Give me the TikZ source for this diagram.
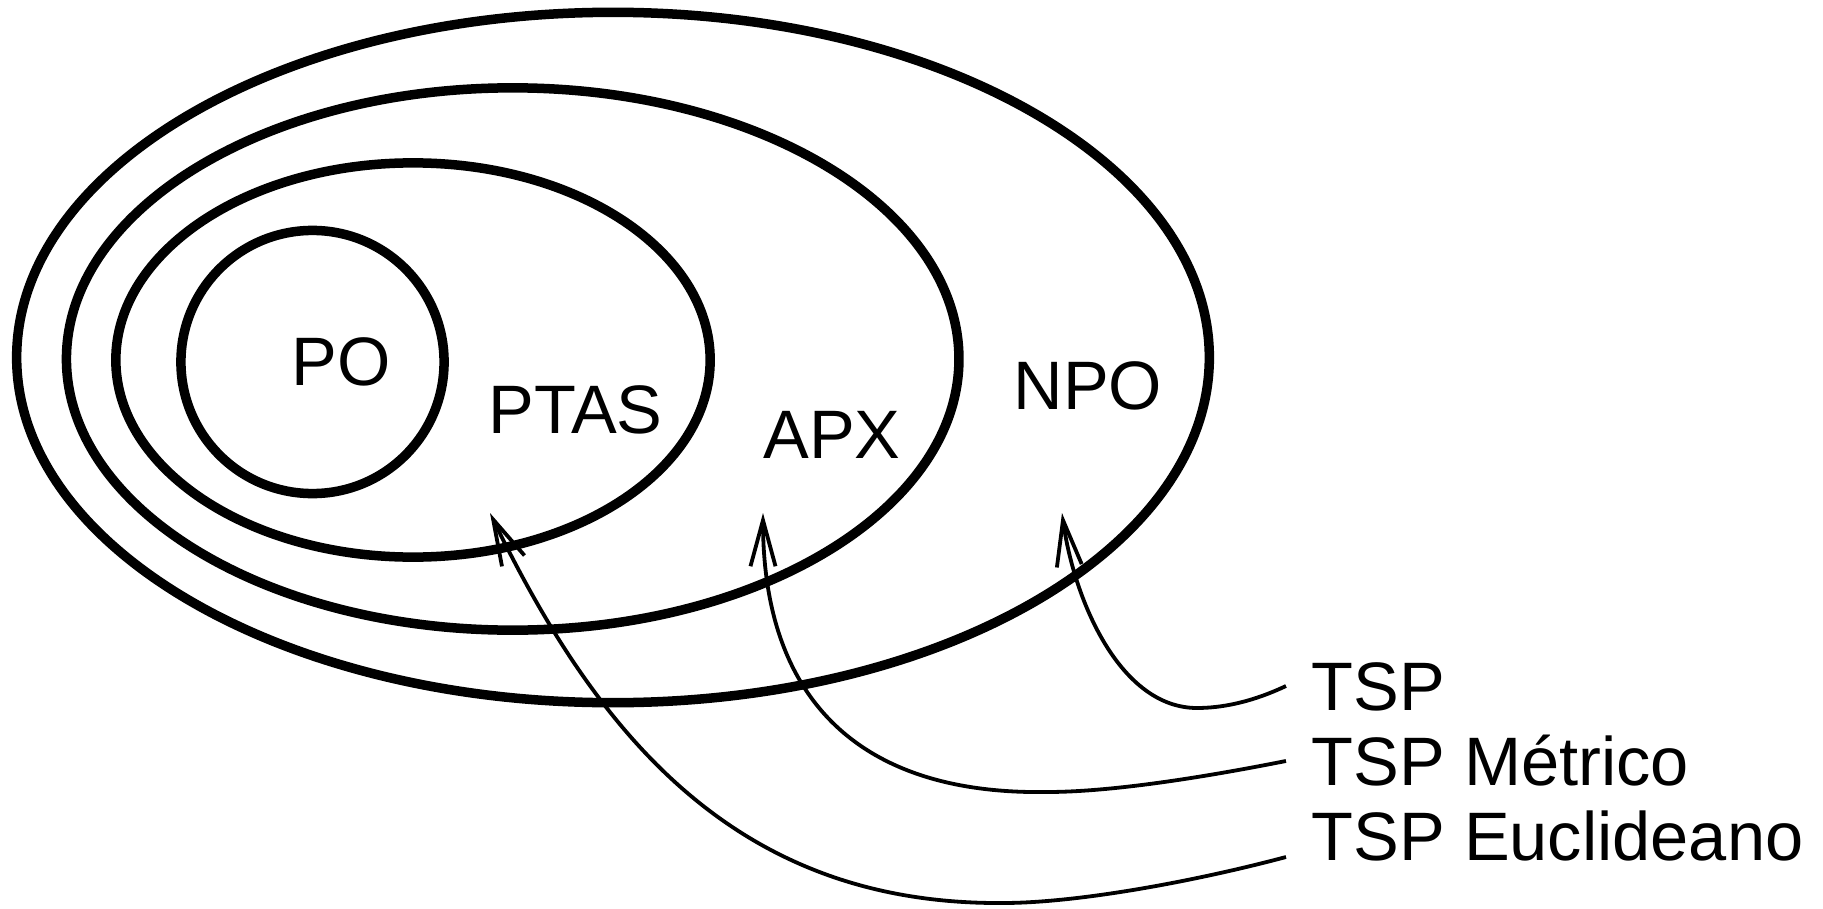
\documentclass[tikz,border=0pt]{standalone}
\usepackage{fontspec}
\setmainfont{Liberation Sans}
\usetikzlibrary{arrows.meta,shapes.geometric}

\begin{document}
\begin{tikzpicture}[
  x=0.01cm, y=-0.01cm,
  font=\fontsize{19.5}{23}\selectfont,
  clase/.style={draw, ellipse, line width=0.095cm, inner sep=0pt},
  flecha/.style={-{Straight Barb[length=0.46cm, width=0.25cm]}, line width=0.038cm},
  etiq/.style={inner sep=0pt}
]
  \useasboundingbox (0,0) rectangle (1823,909);

  % clases de aproximacion
  \node[clase, minimum width=11.92cm, minimum height=6.90cm] (npo) at (613,357.5) {};
  \node[clase, minimum width=8.92cm, minimum height=5.42cm] (apx) at (512.7,359) {};
  \node[clase, minimum width=5.94cm, minimum height=3.94cm] (ptas) at (413,360) {};
  \node[clase, circle, minimum size=2.63cm] (po) at (312.5,362) {};

  \node[etiq] (lpo) at (341,362) {PO};
  \node[etiq] (lptas) at (575.5,410) {PTAS};
  \node[etiq] (lapx) at (832,435) {APX};
  \node[etiq] (lnpo) at (1088,386) {NPO};

  % problemas
  \node[etiq, anchor=base west] (tsp) at (1311,710) {TSP};
  \node[etiq, anchor=base west] (metrico) at (1311,785) {TSP Métrico};
  \node[etiq, anchor=base west] (euclid) at (1311,860) {TSP Euclideano};

  \coordinate (enpo) at (1062,513);
  \coordinate (eapx) at (763,513);
  \coordinate (eptas) at (490,513);

  \draw[flecha] ([xshift=-0.25cm, yshift=0.24cm]tsp.base west)
        .. controls (1250,703) and (1220,708) .. (1197,708)
        .. controls (1120,708) and (1074,600) .. (enpo);
  \draw[flecha] ([xshift=-0.25cm, yshift=0.24cm]metrico.base west)
        .. controls (1200,778) and (1110,792) .. (1047,792)
        .. controls (860,795) and (763,700) .. (eapx);
  \draw[flecha] ([xshift=-0.25cm, yshift=0.03cm]euclid.base west)
        .. controls (1200,880) and (1080,903) .. (1003,903)
        .. controls (740,905) and (600,740) .. (eptas);
\end{tikzpicture}
\end{document}
